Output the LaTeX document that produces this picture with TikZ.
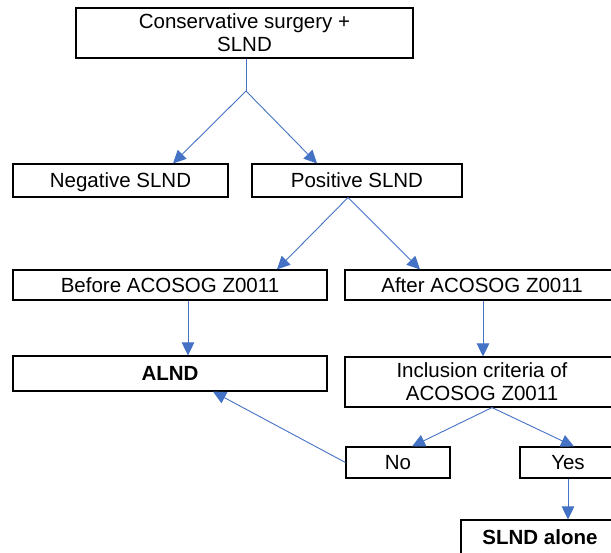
\documentclass[tikz,border=0pt]{standalone}
\usepackage{fontspec}
\setmainfont{Liberation Sans}
\usetikzlibrary{arrows.meta}
\definecolor{linkblue}{HTML}{4472C4}
\tikzset{
  box/.style={draw=black, line width=1.1pt, fill=white, inner sep=0pt, align=center,
    font=\fontsize{20.5}{23}\selectfont},
  oneline/.style={text height=14.7pt, text depth=0pt},
  twoline/.style={text height=37.7pt, text depth=0pt},
  link/.style={draw=linkblue, line width=0.9pt},
  arr/.style={link, -{Triangle[length=13pt,width=12.5pt]}},
}
\begin{document}
\begin{tikzpicture}[x=1pt,y=-1pt]
\useasboundingbox (0,0) rectangle (611,553);
\clip (0,0) rectangle (611,553);
% boxes
\node[box, twoline, minimum width=337pt, minimum height=50pt] (top) at (244.5,33) {Conservative surgery +\\SLND};
\node[box, oneline, minimum width=215pt, minimum height=33pt] (neg) at (120.5,180.5) {Negative SLND};
\node[box, oneline, minimum width=210pt, minimum height=33pt] (pos) at (357,180.5) {Positive SLND};
\node[box, oneline, minimum width=314pt, minimum height=30pt] (before) at (170,285) {Before ACOSOG Z0011};
\node[box, oneline, minimum width=274pt, minimum height=30pt] (after) at (482,285) {After ACOSOG Z0011};
\node[box, oneline, minimum width=314pt, minimum height=35pt] (alnd) at (170,373.5) {\textbf{ALND}};
\node[box, twoline, minimum width=274pt, minimum height=50pt] (incl) at (482,382) {Inclusion criteria of\\ACOSOG Z0011};
\node[box, oneline, minimum width=104pt, minimum height=31pt] (no) at (398,462.5) {No};
\node[box, oneline, minimum width=96pt, minimum height=31pt] (yes) at (568,462.5) {Yes};
\node[box, oneline, minimum width=158pt, minimum height=35pt] (alone) at (540,537.5) {\textbf{SLND alone}};
% junctions
\coordinate (j1) at ([xshift=1.5pt]top.south |- 0,91);
% connectors
\draw[link] ([xshift=1.5pt]top.south) -- (j1);
\draw[arr] (j1) -- ([xshift=52.5pt]neg.north);
\draw[arr] (j1) -- ([xshift=-40pt]pos.north);
\draw[arr] ([xshift=-9pt]pos.south) -- ([xshift=107pt]before.north);
\draw[arr] ([xshift=-9pt]pos.south) -- ([xshift=-62pt]after.north);
\draw[arr] ([xshift=18pt]before.south) -- ([xshift=18pt]alnd.north);
\draw[arr] ([xshift=1pt]after.south) -- ([xshift=1pt]incl.north);
\draw[arr] ([xshift=10pt]incl.south) -- ([xshift=14pt]no.north);
\draw[arr] ([xshift=10pt]incl.south) -- ([xshift=6pt]yes.north);
\draw[arr] (yes.south) -- ([xshift=28pt]alone.north);
\draw[arr] (no.west) -- ([xshift=43pt]alnd.south);
\end{tikzpicture}
\end{document}
